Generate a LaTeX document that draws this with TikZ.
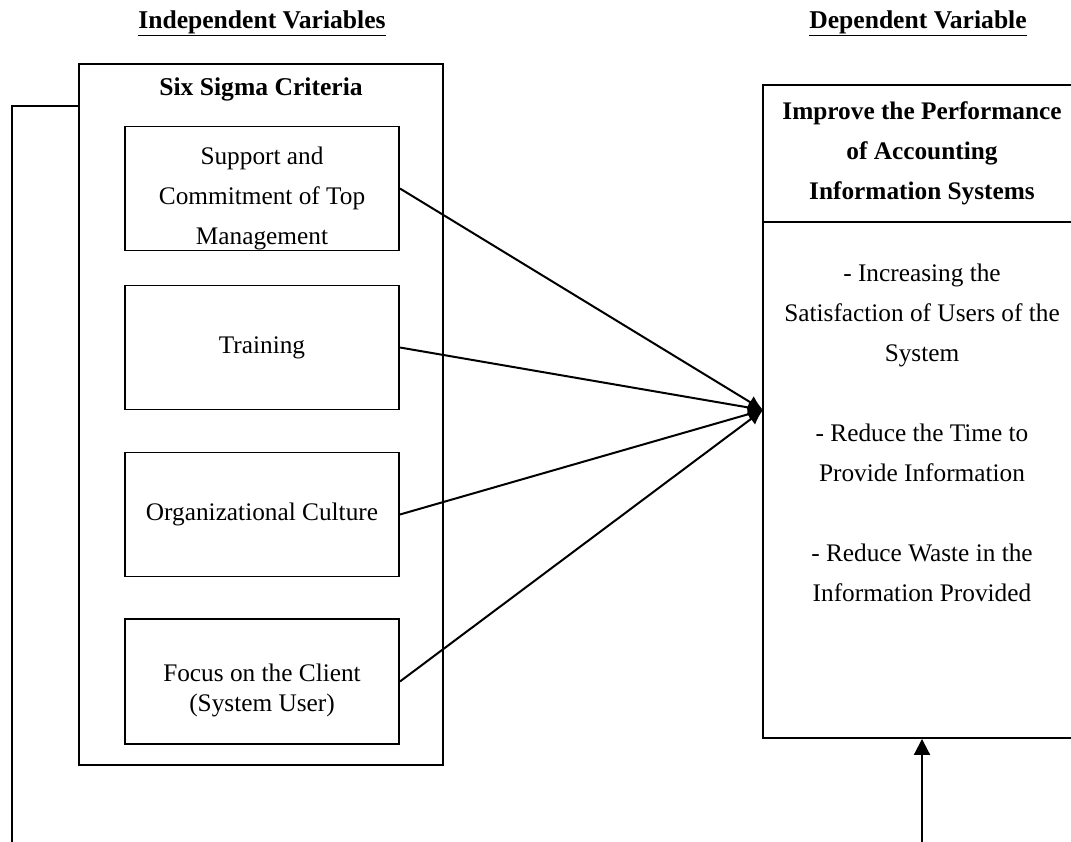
\documentclass[tikz,border=0pt]{standalone}
\usepackage{fontspec}
\setmainfont{Liberation Serif}
\usetikzlibrary{arrows.meta}
\begin{document}
\begin{tikzpicture}[x=1pt,y=-1pt,
  every node/.style={font=\fontsize{25.3}{40}\selectfont, align=center, inner sep=0pt},
  box/.style={draw, line width=1.9pt, minimum width=274pt, minimum height=124pt},
  frame/.style={draw, line width=1.9pt},
  conn/.style={line width=2pt, -{Latex[length=15pt,width=14pt]}},
  plain/.style={line width=2pt},
  title/.style={font=\fontsize{25.6}{40}\selectfont\bfseries}]
\useasboundingbox (0,0) rectangle (1071,842);
\clip (0,0) rectangle (1071,842);
% titles
\node[title] (indep) at (262,23) {\underline{Independent Variables}};
\node[title] (dep) at (918,23) {\underline{Dependent Variable}};
% outer frame
\node[frame, minimum width=364pt, minimum height=701pt] (ssc) at (261,414.5) {};
\node[title] (ssct) at (261,89) {Six Sigma Criteria};
% inner boxes
\node[box] (b1) at (262,188.5) {};
\node (b1t) at (262,198) {Support and\\Commitment of Top\\Management};
\node[box] (b2) at (262,347.5) {Training};
\node[box] (b3) at (262,514.5) {Organizational Culture};
\node[box, minimum height=125pt] (b4) at (262,681.5) {};
\node[font=\fontsize{25.3}{30}\selectfont] (b4t) at (262,690) {Focus on the Client\\(System User)};
% right box
\node[frame, minimum width=318pt, minimum height=137pt, font=\fontsize{25.3}{40}\selectfont\bfseries] (dvh) at (922,153.5) {Improve the Performance\\of Accounting\\Information Systems};
\node[frame, minimum width=318pt, minimum height=516pt] (dvb) at (922,480) {};
\node (dvt) at (922,433) {- Increasing the\\Satisfaction of Users of the\\System\\[40pt]- Reduce the Time to\\Provide Information\\[40pt]- Reduce Waste in the\\Information Provided};
% connectors
\coordinate (conv) at (763,410);
\draw[conn] (b1.east) -- (conv);
\draw[conn] (b2.east) -- (conv);
\draw[conn] (b3.east) -- (conv);
\draw[conn] (b4.east) -- (conv);
\coordinate (bot) at (922,845);
\draw[line width=2pt, -{Triangle[length=16pt,width=16pt]}] (bot) -- (dvb.south);
\coordinate (lbot) at (12,845);
\coordinate (lcorner) at (12,106);
\draw[plain] (lbot) -- (lcorner) -- (lcorner -| ssc.west);
\end{tikzpicture}
\end{document}
